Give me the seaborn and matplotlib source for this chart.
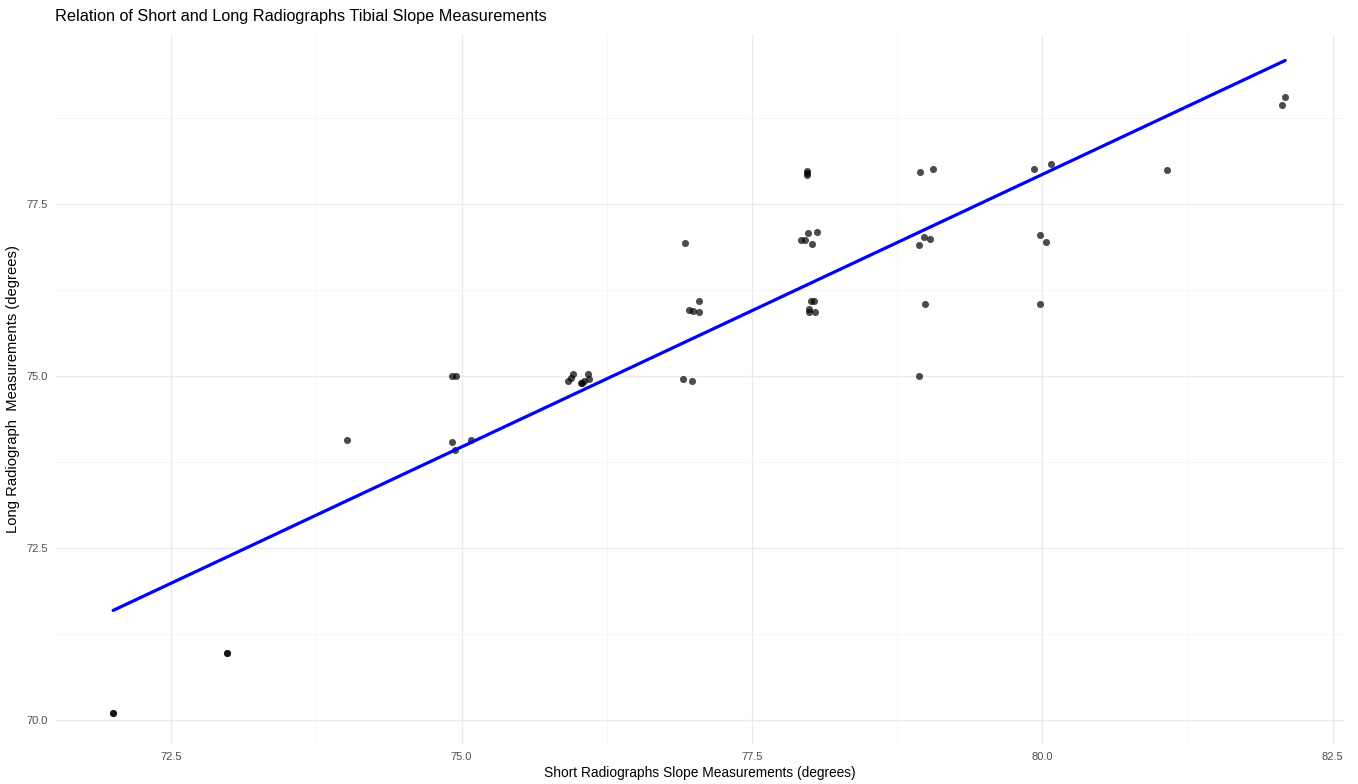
import numpy as np
import pandas as pd
import seaborn as sns
from matplotlib import pyplot as plt
from matplotlib.ticker import MultipleLocator

sns.set_theme(style='white')
plt.rcParams['font.family'] = ['Liberation Sans', 'DejaVu Sans']

# values (points are slightly jittered)
short_deg = [72.00, 72.00, 72.98, 72.98, 74.01, 74.92, 74.95, 74.92, 74.94, 75.08,
             75.92, 75.94, 75.96, 76.09, 76.10, 76.03, 76.05, 76.04, 76.91, 76.98,
             76.92, 77.04, 76.96, 76.99, 77.04, 77.97, 77.97, 77.97, 77.92, 77.96,
             77.98, 78.06, 78.02, 78.01, 78.03, 77.99, 77.99, 78.04, 78.95, 79.06,
             78.98, 79.03, 78.94, 78.99, 78.94, 79.93, 80.07, 79.98, 80.03, 79.98,
             81.07, 82.06, 82.09]
long_deg = [70.10, 70.10, 70.97, 70.97, 74.07, 75.00, 75.00, 74.04, 73.92, 74.07,
            74.92, 74.97, 75.02, 75.02, 74.95, 74.90, 74.92, 74.89, 74.95, 74.93,
            76.93, 76.09, 75.96, 75.94, 75.93, 77.97, 77.95, 77.92, 76.98, 76.98,
            77.07, 77.09, 76.91, 76.09, 76.09, 75.97, 75.93, 75.93, 77.96, 78.00,
            77.02, 76.99, 76.90, 76.04, 74.99, 78.01, 78.08, 77.04, 76.94, 76.04,
            77.99, 78.93, 79.06]

df = pd.DataFrame({'short': short_deg, 'long': long_deg})

fig = plt.figure(figsize=(13.58, 7.84), dpi=100)
ax = fig.add_axes([0.0405, 0.0497, 0.9495, 0.907])

sns.scatterplot(data=df, x='short', y='long', ax=ax, color='black', alpha=0.7,
                s=26, linewidth=0, zorder=3)
sns.regplot(data=df, x='short', y='long', ax=ax, scatter=False, ci=None,
            color='#0000FF', line_kws={'linewidth': 2.3, 'zorder': 4})

ax.set_xlim(71.5, 82.6)
ax.set_ylim(69.63, 79.97)
ax.xaxis.set_major_locator(MultipleLocator(2.5))
ax.yaxis.set_major_locator(MultipleLocator(2.5))
ax.xaxis.set_minor_locator(MultipleLocator(1.25))
ax.yaxis.set_minor_locator(MultipleLocator(1.25))
ax.grid(which='major', color='#EBEBEB', linewidth=1.0)
ax.grid(which='minor', color='#F5F5F5', linewidth=0.6)
ax.set_axisbelow(True)
for sp in ax.spines.values():
    sp.set_visible(False)
ax.tick_params(which='both', length=0, labelsize=8, labelcolor='#4D4D4D', pad=5)
ax.xaxis.set_major_formatter(plt.FuncFormatter(lambda v, p: f'{v:.1f}'))
ax.yaxis.set_major_formatter(plt.FuncFormatter(lambda v, p: f'{v:.1f}'))

ax.set_xlabel('Short Radiographs Slope Measurements (degrees)', fontsize=9.9, color='black', labelpad=3)
ax.set_ylabel('Long Radiograph  Measurements (degrees)', fontsize=10.6, color='black', labelpad=5)
ax.set_title('Relation of Short and Long Radiographs Tibial Slope Measurements',
             loc='left', fontsize=11.7, color='black', pad=9)

plt.savefig('out.png', dpi=100)
plt.close()
